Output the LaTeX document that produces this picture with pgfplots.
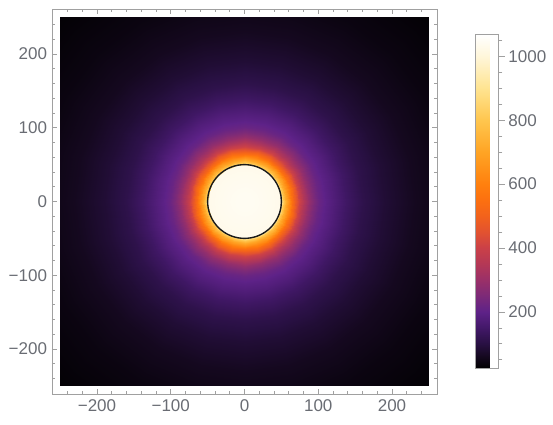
\documentclass[border=0pt]{standalone}
\usepackage{fontspec}
\setmainfont{Liberation Sans}
\usepackage{pgfplots}
\usepackage{pgfplotstable}
\pgfplotsset{compat=1.18}
\definecolor{tickgray}{RGB}{105,108,115}
\definecolor{framegray}{RGB}{160,160,160}

% radial profile (angle t in deg, radius r, value v), one quadrant
\pgfplotstableread{
t r v
0 0 1045
0 15 1043
0 30 1038
0 42 1034
0 49.8 1030
0 50.2 880
0 53 790
0 56 720
0 60 640
0 65 545
0 69 480
0 74 410
0 80 345
0 87 290
0 94 250
0 101 218
0 110 195
0 120 178
0 137 145
0 160 112
0 190 86
0 230 62
0 280 44
0 360 28
15 0 1045
15 15 1043
15 30 1038
15 42 1034
15 49.8 1030
15 50.2 880
15 53 790
15 56 720
15 60 640
15 65 545
15 69 480
15 74 410
15 80 345
15 87 290
15 94 250
15 101 218
15 110 195
15 120 178
15 137 145
15 160 112
15 190 86
15 230 62
15 280 44
15 360 28
30 0 1045
30 15 1043
30 30 1038
30 42 1034
30 49.8 1030
30 50.2 880
30 53 790
30 56 720
30 60 640
30 65 545
30 69 480
30 74 410
30 80 345
30 87 290
30 94 250
30 101 218
30 110 195
30 120 178
30 137 145
30 160 112
30 190 86
30 230 62
30 280 44
30 360 28
45 0 1045
45 15 1043
45 30 1038
45 42 1034
45 49.8 1030
45 50.2 880
45 53 790
45 56 720
45 60 640
45 65 545
45 69 480
45 74 410
45 80 345
45 87 290
45 94 250
45 101 218
45 110 195
45 120 178
45 137 145
45 160 112
45 190 86
45 230 62
45 280 44
45 360 28
60 0 1045
60 15 1043
60 30 1038
60 42 1034
60 49.8 1030
60 50.2 880
60 53 790
60 56 720
60 60 640
60 65 545
60 69 480
60 74 410
60 80 345
60 87 290
60 94 250
60 101 218
60 110 195
60 120 178
60 137 145
60 160 112
60 190 86
60 230 62
60 280 44
60 360 28
75 0 1045
75 15 1043
75 30 1038
75 42 1034
75 49.8 1030
75 50.2 880
75 53 790
75 56 720
75 60 640
75 65 545
75 69 480
75 74 410
75 80 345
75 87 290
75 94 250
75 101 218
75 110 195
75 120 178
75 137 145
75 160 112
75 190 86
75 230 62
75 280 44
75 360 28
90 0 1045
90 15 1043
90 30 1038
90 42 1034
90 49.8 1030
90 50.2 880
90 53 790
90 56 720
90 60 640
90 65 545
90 69 480
90 74 410
90 80 345
90 87 290
90 94 250
90 101 218
90 110 195
90 120 178
90 137 145
90 160 112
90 190 86
90 230 62
90 280 44
90 360 28
}\proftab

\pgfplotstableread{
t r
0 50
10 50
20 50
30 50
40 50
50 50
60 50
70 50
80 50
90 50
100 50
110 50
120 50
130 50
140 50
150 50
160 50
170 50
180 50
190 50
200 50
210 50
220 50
230 50
240 50
250 50
260 50
270 50
280 50
290 50
300 50
310 50
320 50
330 50
340 50
350 50
360 50
}\circtab

\begin{document}
\begin{tikzpicture}
\useasboundingbox (-244.5pt,-222.5pt) rectangle (308.5pt,201.5pt);
\begin{axis}[
  at={(0pt,0pt)}, anchor=center,
  scale only axis, width=368.8pt, height=368.8pt,
  xmin=-250, xmax=250, ymin=-250, ymax=250,
  hide axis,
  colormap={sunset}{
    rgb255(0pt)=(0,0,0);
    rgb255(37pt)=(20,8,30);
    rgb255(77pt)=(40,16,66);
    rgb255(127pt)=(66,24,104);
    rgb255(177pt)=(94,34,136);
    rgb255(227pt)=(124,42,120);
    rgb255(277pt)=(154,48,104);
    rgb255(327pt)=(180,56,86);
    rgb255(377pt)=(202,64,72);
    rgb255(427pt)=(226,82,48);
    rgb255(477pt)=(242,98,28);
    rgb255(527pt)=(252,112,16);
    rgb255(577pt)=(255,128,14);
    rgb255(677pt)=(255,164,36);
    rgb255(777pt)=(255,198,78);
    rgb255(877pt)=(255,228,145);
    rgb255(977pt)=(255,246,218);
    rgb255(1045pt)=(255,255,255)
  },
  point meta min=23, point meta max=1068,
  colorbar,
  colorbar style={
    at={(parent axis.east)}, anchor=west, xshift=38pt,
    scale only axis, width=23pt, height=334pt,
    ytick={200,400,600,800,1000},
    yticklabels={200,400,600,800,1000},
    minor ytick={50,100,150,250,300,350,450,500,550,650,700,750,850,900,950,1050},
    tick align=outside, ytick pos=right, yticklabel pos=right,
    major tick length=6.5pt, minor tick length=4pt,
    axis line style={framegray, line width=0.9pt},
    tick style={framegray, line width=0.8pt},
    yticklabel style={font=\fontsize{17}{20}\selectfont, text=tickgray},
  },
]
\addplot[surf, shader=interp, mesh/cols=24, point meta=\thisrow{v}]
  table[x expr={\thisrow{r}*cos(\thisrow{t})}, y expr={\thisrow{r}*sin(\thisrow{t})}] {\proftab};
\addplot[surf, shader=interp, mesh/cols=24, point meta=\thisrow{v}]
  table[x expr={\thisrow{r}*cos(\thisrow{t}+90)}, y expr={\thisrow{r}*sin(\thisrow{t}+90)}] {\proftab};
\addplot[surf, shader=interp, mesh/cols=24, point meta=\thisrow{v}]
  table[x expr={\thisrow{r}*cos(\thisrow{t}+180)}, y expr={\thisrow{r}*sin(\thisrow{t}+180)}] {\proftab};
\addplot[surf, shader=interp, mesh/cols=24, point meta=\thisrow{v}]
  table[x expr={\thisrow{r}*cos(\thisrow{t}+270)}, y expr={\thisrow{r}*sin(\thisrow{t}+270)}] {\proftab};
\addplot[black!90, line width=1.4pt, smooth]
  table[x expr={\thisrow{r}*cos(\thisrow{t})}, y expr={\thisrow{r}*sin(\thisrow{t})}] {\circtab};
\end{axis}
\begin{axis}[
  at={(0pt,0pt)}, anchor=center,
  scale only axis, width=385pt, height=385pt,
  xmin=-261, xmax=261, ymin=-261, ymax=261,
  xtick={-200,-100,0,100,200}, ytick={-200,-100,0,100,200},
  xticklabels={−200,−100,0,100,200}, yticklabels={−200,−100,0,100,200},
  minor xtick={-240,-220,-180,-160,-140,-120,-80,-60,-40,-20,20,40,60,80,120,140,160,180,220,240},
  minor ytick={-240,-220,-180,-160,-140,-120,-80,-60,-40,-20,20,40,60,80,120,140,160,180,220,240},
  tick align=inside, major tick length=5pt, minor tick length=3pt,
  axis line style={framegray, line width=0.9pt},
  tick style={framegray, line width=0.8pt},
  ticklabel style={font=\fontsize{17}{20}\selectfont, text=tickgray},
  xticklabel style={yshift=-2pt},
  yticklabel style={xshift=-1.5pt},
]
\end{axis}
\end{tikzpicture}
\end{document}
